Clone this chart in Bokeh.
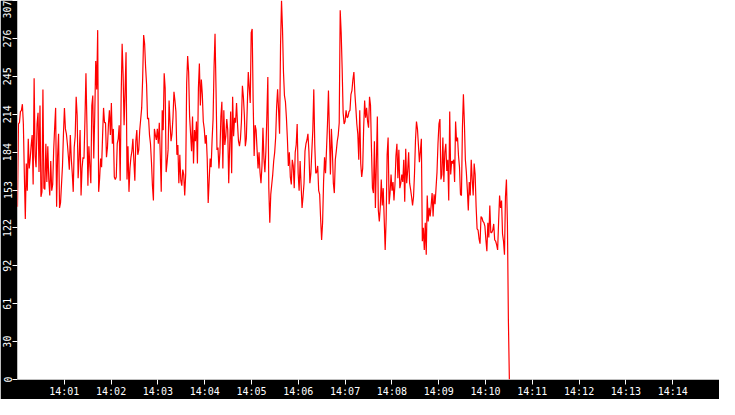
import numpy as np
import pandas as pd
from bokeh.plotting import figure
from bokeh.models import Range1d, FixedTicker
from bokeh.embed import file_html
from bokeh.resources import INLINE

# ---- data (one sample per ~1.25 s) ----
START = "2024-01-01 14:00:00"
END_OF_DATA_SECONDS = 630.6   # last sample time after start
VIEW_MINUTES = 15

SEG1 = [140, 207, 208, 217, 218, 223, 207, 166, 130, 175, 153, 195, 171, 179, 190, 198, 158, 244, 181, 172,
        207, 216, 168, 222, 148, 152, 235, 155, 154, 191, 160, 189, 162, 149, 177, 153, 158, 186, 204, 220,
        140, 181, 199, 139, 143, 158, 173, 199, 220, 203, 199, 191, 181, 170, 198, 179, 167, 152, 188, 197,
        229, 214, 163, 179, 202, 149, 171, 180, 179, 211, 248, 207, 157, 189, 173, 159, 222, 230, 179, 214,
        258, 235, 283]
SEG2 = [152, 163, 179, 172, 197, 220, 208, 208, 180, 188, 207, 218, 198, 224, 191, 203, 164, 162, 164, 191,
        195, 206, 161, 229, 272, 247, 206, 233, 265, 162, 189, 152, 171, 180, 185, 195, 177, 161, 193, 202,
        182, 186, 202, 211, 220, 244, 279, 272, 253, 239, 211, 212, 198, 191, 176, 157, 145, 203, 198, 194,
        203, 191, 208, 182, 152, 218, 202, 248, 236, 168, 176, 186, 226, 208, 193, 199, 212, 233, 226, 217,
        182, 190, 159, 182, 161]
SEG3 = [157, 170, 166, 149, 166, 240, 262, 249, 213, 199, 185, 213, 175, 202, 193, 209, 175, 236, 256, 222,
        243, 231, 209, 203, 191, 198, 179, 143, 161, 179, 172, 194, 211, 253, 280, 236, 186, 188, 171, 184,
        213, 225, 171, 218, 190, 197, 211, 202, 159, 190, 217, 167, 229, 197, 212, 208, 224, 207, 193, 189,
        195, 209, 238, 229, 214, 189, 195, 222, 249, 236, 224, 281, 284, 225, 181, 206, 202, 186, 171, 184,
        168, 159, 173, 204, 179]
SEG4 = [168, 185, 213, 245, 155, 127, 150, 158, 166, 177, 184, 196, 221, 235, 218, 199, 271, 307, 284, 249,
        230, 225, 212, 195, 173, 184, 164, 158, 178, 173, 155, 184, 190, 207, 167, 153, 177, 158, 139, 148,
        159, 185, 191, 194, 199, 185, 159, 167, 185, 202, 235, 190, 167, 168, 173, 153, 150, 130, 113, 127,
        160, 180, 167, 186, 207, 234, 199, 166, 203, 185, 159, 151, 178, 185, 193, 198, 208, 299, 281, 252,
        216, 207, 209, 218, 212, 213, 217, 218, 231, 234, 243, 249, 232, 220, 207, 199, 178, 218, 175, 164,
        171, 204, 226, 212, 220, 209, 204, 229, 222, 186]
SEG5 = [155, 151, 193, 139, 176, 213, 137, 128, 140, 162, 141, 155, 130, 105, 130, 182, 196, 142, 151, 166,
        153, 160, 145, 158, 181, 191, 163, 186, 155, 159, 166, 160, 178, 144, 187, 159, 169, 184, 159, 154,
        148, 141, 148, 167, 194, 209, 203, 190, 176, 185, 195, 112, 123, 105, 127, 101, 149, 128, 139, 132,
        141, 151, 132, 150, 142, 155, 168, 191, 207, 211, 162]
SEG6 = [166, 196, 160, 184, 191, 169, 178, 145, 217, 166, 177, 175, 178, 160, 209, 193, 196, 181, 172, 150,
        149, 204, 231, 208, 178, 168, 154, 137, 160, 149, 178, 162, 149, 175, 166, 140, 122, 121, 114, 110,
        132, 131, 128, 127, 124, 113, 104, 127, 115, 141, 119, 119, 121, 126, 113, 112, 109, 105, 128, 149,
        139, 145, 118, 112, 101, 148, 162, 127, 48, 0]

Y_MAX = 307
Y_TICKS = [0, 30.7, 61.4, 92.1, 122.8, 153.5, 184.2, 214.9, 245.6, 276.3, 307.0]
Y_TICK_LABELS = ["0", "30", "61", "92", "122", "153", "184", "214", "245", "276", "307"]
X_TICK_LABELS = ["14:01", "14:02", "14:03", "14:04", "14:05", "14:06", "14:07",
                 "14:08", "14:09", "14:10", "14:11", "14:12", "14:13", "14:14"]

# ---- build ----
values = np.array(SEG1 + SEG2 + SEG3 + SEG4 + SEG5 + SEG6, dtype=float)
start_ms = pd.Timestamp(START).value / 1e6
secs = np.linspace(0.0, END_OF_DATA_SECONDS, len(values))
xs = start_ms + secs * 1000.0

x_ticks = [start_ms + (i + 1) * 60000.0 for i in range(len(X_TICK_LABELS))]

p = figure(width=719, height=399, x_axis_type="datetime",
           output_backend="svg", toolbar_location=None,
           x_range=Range1d(start_ms, start_ms + VIEW_MINUTES * 60000.0),
           y_range=Range1d(0, Y_MAX),
           background_fill_color="white", border_fill_color="black",
           outline_line_color=None, min_border=0)
p.grid.visible = False

p.line(xs, values, line_color="#ff0000", line_width=1.2)

p.xaxis.ticker = FixedTicker(ticks=x_ticks)
p.xaxis.major_label_overrides = dict(zip(x_ticks, X_TICK_LABELS))
p.yaxis.ticker = FixedTicker(ticks=Y_TICKS)
p.yaxis.major_label_overrides = dict(zip(Y_TICKS, Y_TICK_LABELS))
p.yaxis.major_label_orientation = "vertical"

for ax in (p.xaxis[0], p.yaxis[0]):
    ax.axis_line_color = None
    ax.major_tick_line_color = "white"
    ax.major_tick_in = 0
    ax.major_tick_out = 5
    ax.minor_tick_line_color = None
    ax.major_label_text_color = "white"
    ax.major_label_text_font = "DejaVu Sans Mono"
    ax.major_label_text_font_size = "10px"
    ax.major_label_standoff = 1

open("out.html", "w").write(file_html(p, INLINE))
